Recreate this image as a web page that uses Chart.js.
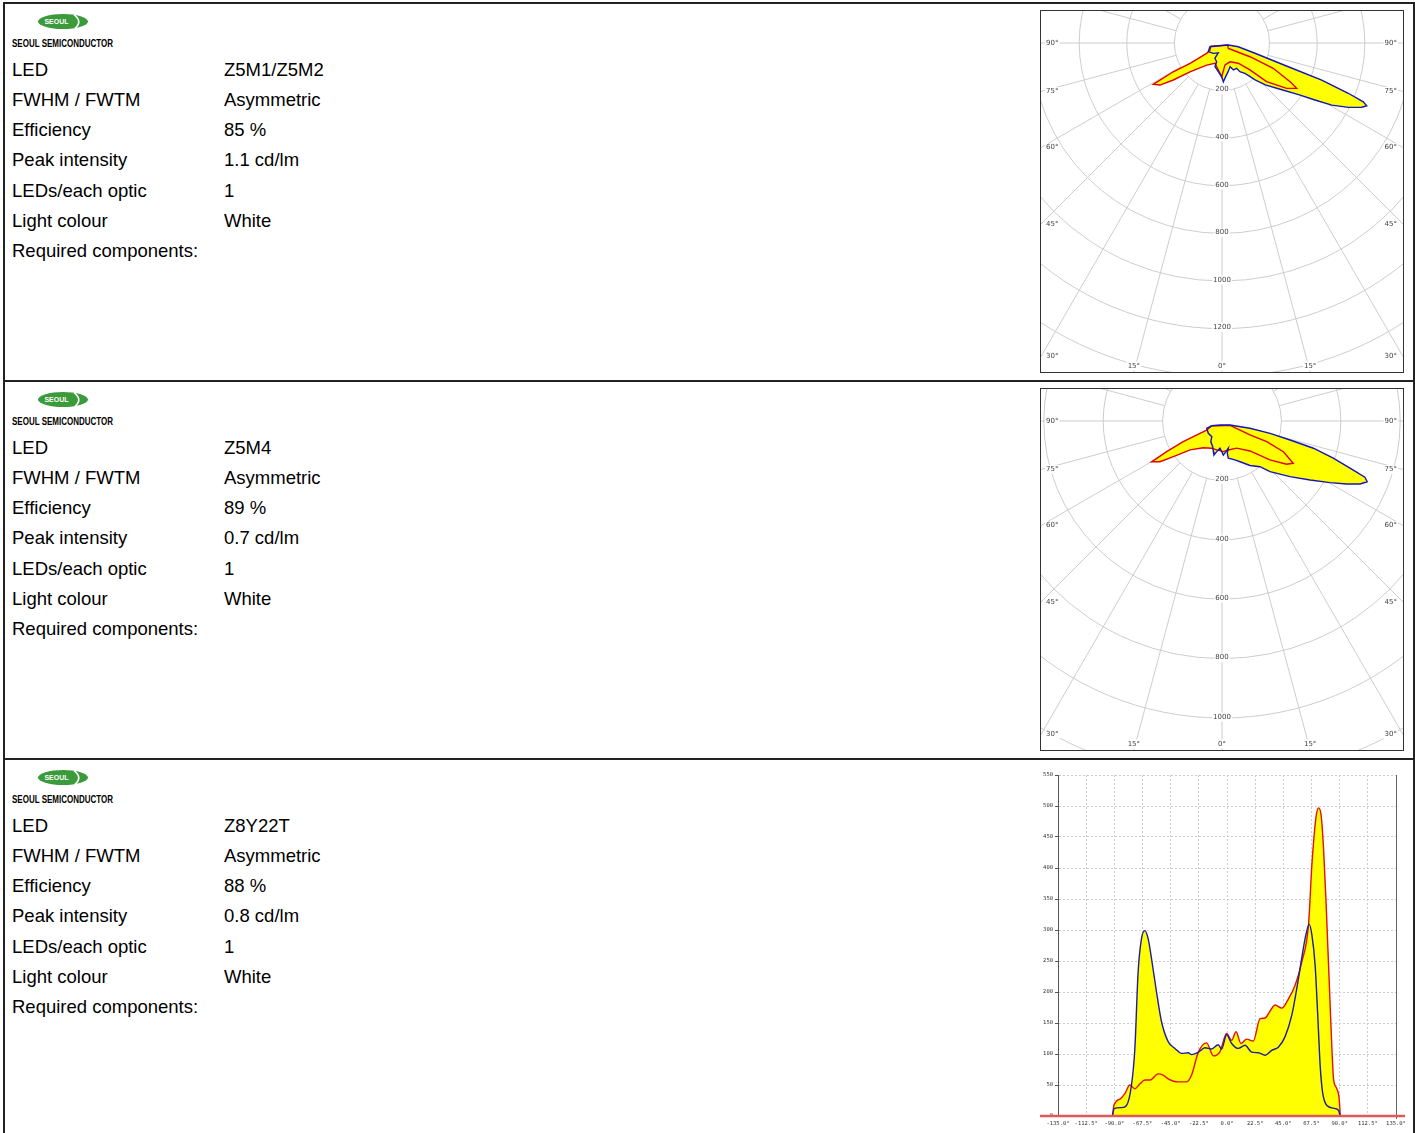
<!DOCTYPE html>
<html>
<head>
<meta charset="utf-8">
<script src="https://cdn.jsdelivr.net/npm/chart.js@4.4.0/dist/chart.umd.min.js"></script>
<style>
	html, body { margin: 0; padding: 0; background: #fff; }
	body { position: relative; width: 1415px; height: 1133px; overflow: hidden; font-family: "Liberation Sans", Arial, sans-serif; color: #000; }
	.frame { position: absolute; left: 3px; top: 2px; width: 1408px; height: 1140px; border: 2px solid #222; }
	.sep { position: absolute; left: 3px; width: 1412px; height: 2px; background: #222; }
	.logo { position: absolute; left: 37px; }
	.brand { position: absolute; left: 12px; font-weight: bold; font-size: 10px; line-height: 12px; transform: scaleX(0.8); transform-origin: left center; white-space: nowrap; }
	.info { position: absolute; left: 12px; width: 600px; font-size: 18.5px; }
	.ln { position: relative; height: 30.17px; line-height: 30.17px; white-space: nowrap; }
	.ln .v { position: absolute; left: 212px; top: 0; }
	.box { position: absolute; left: 1040px; width: 362px; height: 361px; border: 1px solid #333; background: #fff; }
	.box canvas, #lineWrap canvas { display: block; }
	#lineWrap { position: absolute; left: 1035px; top: 765px; width: 375px; height: 368px; }
</style>
</head>
<body>
<div class="frame"></div>
<div class="sep" style="top:380px"></div>
<div class="sep" style="top:758px"></div>
<div id="rows"></div>

<div class="box" style="top:10px"><canvas id="polar1" width="362" height="361"></canvas></div>
<div class="box" style="top:388px"><canvas id="polar2" width="362" height="361"></canvas></div>
<div id="lineWrap"><canvas id="lineChart" width="375" height="368"></canvas></div>

<script>
// ---- text data for the three rows ----
const ledNames = ['Z5M1/Z5M2', 'Z5M4', 'Z8Y22T'];
const efficiencies = ['85 %', '89 %', '88 %'];
const peakIntensities = ['1.1 cd/lm', '0.7 cd/lm', '0.8 cd/lm'];
const rowOffsets = [0, 378, 756];

// ---- polar plot 1 (Z5M1/Z5M2), gamma angle in degrees, intensity in cd/klm ----
const p1BlueAngles = [-73, -58, -40, -21, -25, -16, -16.5, -7, -0.5, 2, 6, 12, 19, 23, 30, 32, 37, 40, 42, 46, 52, 56, 58.5, 60.5, 63, 65.3, 66.5, 67.4, 68.3, 69.6, 70.3, 72.7, 77, 72];
const p1BlueValues = [53, 68, 57, 44, 71, 82, 104, 122, 142, 163, 143, 123, 105, 123, 123, 142, 160, 184, 208, 253, 319, 388, 458, 530, 596, 646, 663, 643, 571, 447, 296, 145, 70, 28];
const p1RedAngles = [-75, -59.7, -56, -57.6, -59.5, -59, -55.9, -52.8, -48.1, -34.8, -19, -12.6, -0.5, 7.8, 23.2, 38.8, 46, 49.1, 55, 58.8, 60.4, 63.7, 63.9, 50, 70];
const p1RedValues = [50, 58, 78, 159, 238, 337, 315, 257, 181, 113, 90, 102, 142, 93, 86, 109, 163, 248, 332, 367, 329, 240, 131, 35, 25];

// ---- polar plot 2 (Z5M4) ----
const p2BlueAngles = [-65.5, -64.5, -48, -33, -28.6, -19.9, -15.8, -13.2, -8.9, -4.2, -0.6, 2.2, 7.4, 13, 9.3, 9.6, 18.4, 23.9, 32.2, 39.7, 43.4, 50.7, 56.2, 60.3, 63.2, 65.5, 67.3, 68.5, 69.5, 71.5, 73.4, 74.4, 75.6, 75.4, 63.4, -26.6];
const p2BlueValues = [38, 57, 62, 63, 79, 92, 107, 118, 102, 92, 103, 115, 104, 94, 110, 127, 138, 150, 177, 200, 235, 296, 357, 419, 470, 511, 530, 517, 472, 395, 321, 238, 167, 97, 30, 15];
const p2RedAngles = [-64, -59.5, -60.8, -61.9, -61, -59.9, -56.7, -53.8, -47.8, -35, -20.7, -10.4, 2.4, 12.3, 28.3, 43, 50.9, 56.2, 59.3, 63.4, 65.2, 63.4, 63.4, 61.7];
const p2RedValues = [39, 60, 85, 148, 213, 274, 250, 203, 145, 110, 98, 99, 103, 100, 104, 138, 208, 262, 279, 231, 166, 105, 68, 31];

// ---- linear plot (Z8Y22T) ----
const l3BlueAngles = [-91.5, -90.2, -84.3, -80.3, -76.3, -73.6, -71, -68.3, -65.6, -63, -60.3, -56.3, -52.3, -47, -41.6, -36.3, -31, -28.3, -22.9, -17.6, -12.3, -7, -4.3, -0.3, 3.7, 9, 14.4, 19.7, 25, 30.4, 35.8, 41, 46.4, 51.8, 57.1, 62.4, 65.6, 67.8, 70.4, 73.1, 74.4, 76.3, 79.8, 86.5, 89.1, 90.5];
const l3BlueValues = [0, 12, 13.5, 17, 50, 109, 232, 286, 299, 286, 254, 200, 152, 120, 109, 101, 102, 99, 103, 110, 108, 115, 108, 131, 117, 109, 114, 103, 102, 98, 106, 111, 128, 163, 222, 286, 309, 292, 243, 136, 82, 39, 17, 12, 9, 0];
const l3RedAngles = [-91.5, -90.2, -85, -81.6, -77.6, -73.6, -69.5, -65.6, -61.6, -55, -51, -47, -39, -32.3, -28.3, -22.9, -16.3, -10.9, -5.6, -0.3, 3.7, 7.2, 11.2, 15.7, 21, 26.4, 30.4, 34, 38.4, 43.8, 49.1, 54.4, 59.8, 65.1, 67.8, 69.4, 71.3, 73.1, 75.2, 77.1, 79, 80.6, 82.2, 83.8, 85.1, 87.5, 89.6, 90.5];
const l3RedValues = [0, 18, 28, 36, 50, 44, 52, 58, 58, 68, 66, 60, 55, 55, 66, 103, 118, 97, 104, 133, 122, 136, 117, 124, 121, 157, 158, 168, 179, 174, 189, 211, 249, 308, 405, 448, 485, 497, 485, 432, 351, 270, 189, 109, 60, 45, 28, 0];

// axis limits / labels
const p1Range = [-760.5, 760.5, -1382.4, 134.5]; // xmin, xmax, ymin, ymax
const p2Range = [-609.4, 609.4, -1107.7, 107.7];
const p1RingLabels = [200, 400, 600, 800, 1000, 1200];
const p2RingLabels = [200, 400, 600, 800, 1000];
const sideAngles = [90, 75, 60, 45, 30];
const bottomAngles = [15, 0];

// build the text blocks
let html = '';
rowOffsets.forEach(function (off, i) {
	html += '<svg class="logo" style="top:' + (13 + off) + 'px" width="56" height="17" viewBox="0 0 56 17">' +
		'<ellipse cx="26" cy="8.5" rx="25" ry="7.5" fill="#3b9a3a"/>' +
		'<path d="M37 1.6 Q46 8.5 38 15.4" stroke="#fff" stroke-width="1.6" fill="none"/>' +
		'<text x="19.5" y="11" font-size="7" font-weight="bold" fill="#fff" text-anchor="middle" font-family="Liberation Sans, Arial">SEOUL</text></svg>';
	html += '<div class="brand" style="top:' + (38 + off) + 'px">SEOUL SEMICONDUCTOR</div>';
	const lines = [
		['LED', ledNames[i]],
		['FWHM / FWTM', 'Asymmetric'],
		['Efficiency', efficiencies[i]],
		['Peak intensity', peakIntensities[i]],
		['LEDs/each optic', '1'],
		['Light colour', 'White'],
		['Required components:', '']
	];
	html += '<div class="info" style="top:' + (55 + off) + 'px">';
	lines.forEach(function (l) {
		html += '<div class="ln"><span class="k">' + l[0] + '</span><span class="v">' + l[1] + '</span></div>';
	});
	html += '</div>';
});
document.getElementById('rows').innerHTML = html;

// polar (angle, intensity) -> x/y with nadir pointing down
function polarPoints(angles, values) {
	const pts = angles.map(function (a, i) {
		const t = a * Math.PI / 180;
		return { x: values[i] * Math.sin(t), y: -values[i] * Math.cos(t) };
	});
	pts.push(pts[0]); // close the loop
	return pts;
}

function linePoints(angles, values) {
	return angles.map(function (a, i) { return { x: a, y: values[i] }; });
}

// grid of the polar diagram, drawn from the chart scales
const polarGrid = {
	id: 'polarGrid',
	beforeDraw(chart, args, o) {
		const ctx = chart.ctx;
		const a = chart.chartArea;
		const sx = chart.scales.x, sy = chart.scales.y;
		const cx = sx.getPixelForValue(0), cy = sy.getPixelForValue(0);
		const rad = function (v) { return sx.getPixelForValue(v) - cx; };
		ctx.save();
		ctx.beginPath();
		ctx.rect(a.left, a.top, a.right - a.left, a.bottom - a.top);
		ctx.clip();
		ctx.strokeStyle = '#cdcdcd';
		ctx.lineWidth = 1;
		for (let v = o.step; v <= o.ringMax; v += o.step) {
			ctx.beginPath();
			ctx.arc(cx, cy, rad(v), 0, Math.PI * 2);
			ctx.stroke();
		}
		const r0 = rad(o.step), r1 = rad(o.ringMax * 2);
		for (let g = 0; g < 360; g += 15) {
			const t = g * Math.PI / 180;
			ctx.beginPath();
			ctx.moveTo(cx + r0 * Math.sin(t), cy + r0 * Math.cos(t));
			ctx.lineTo(cx + r1 * Math.sin(t), cy + r1 * Math.cos(t));
			ctx.stroke();
		}
		ctx.font = '7px "DejaVu Sans"';
		ctx.textBaseline = 'middle';
		function label(txt, x, y, align) {
			ctx.textAlign = align;
			const w = ctx.measureText(txt).width;
			const x0 = align === 'left' ? x : (align === 'right' ? x - w : x - w / 2);
			ctx.fillStyle = '#fff';
			ctx.fillRect(x0 - 1, y - 4.5, w + 2, 9);
			ctx.fillStyle = '#444';
			ctx.fillText(txt, x, y);
		}
		o.ringLabels.forEach(function (v) { label(String(v), cx, sy.getPixelForValue(-v) - 1, 'center'); });
		o.sideAngles.forEach(function (g) {
			const py = cy + (cx - a.left) / Math.tan(g * Math.PI / 180);
			label(g + '°', a.left + 5, py, 'left');
			label(g + '°', a.right - 6, py, 'right');
		});
		o.bottomAngles.forEach(function (g) {
			const dx = (a.bottom - cy) * Math.tan(g * Math.PI / 180);
			label(g + '°', cx - dx, a.bottom - 6, 'center');
			if (g) label(g + '°', cx + dx, a.bottom - 6, 'center');
		});
		ctx.restore();
	}
};

function makePolar(id, blueA, blueV, redA, redV, range, ringLabels) {
	return new Chart(document.getElementById(id), {
		type: 'scatter',
		data: {
			datasets: [
				{ label: 'C90-C270', data: polarPoints(blueA, blueV), showLine: true, fill: 'shape', backgroundColor: '#ffff00', borderColor: '#1414c0', borderWidth: 1.4, pointRadius: 0, tension: 0 },
				{ label: 'C0-C180', data: polarPoints(redA, redV), showLine: true, fill: 'shape', backgroundColor: '#ffff00', borderColor: '#e00000', borderWidth: 1.4, pointRadius: 0, tension: 0 }
			]
		},
		options: {
			responsive: false,
			animation: false,
			layout: { padding: 0 },
			scales: {
				x: { type: 'linear', display: false, min: range[0], max: range[1] },
				y: { type: 'linear', display: false, min: range[2], max: range[3] }
			},
			plugins: {
				legend: { display: false },
				tooltip: { enabled: false },
				filler: { drawTime: 'beforeDatasetsDraw' },
				polarGrid: { step: 200, ringMax: 1800, ringLabels: ringLabels, sideAngles: sideAngles, bottomAngles: bottomAngles }
			}
		},
		plugins: [polarGrid]
	});
}

makePolar('polar1', p1BlueAngles, p1BlueValues, p1RedAngles, p1RedValues, p1Range, p1RingLabels);
makePolar('polar2', p2BlueAngles, p2BlueValues, p2RedAngles, p2RedValues, p2Range, p2RingLabels);

// right frame line and the red zero line of the cartesian plot
const axisExtras = {
	id: 'axisExtras',
	afterDatasetsDraw(chart) {
		const ctx = chart.ctx;
		const a = chart.chartArea;
		const xr = Math.round(chart.scales.x.getPixelForValue(135)) + 0.5;
		const y0 = chart.scales.y.getPixelForValue(0);
		ctx.save();
		ctx.strokeStyle = '#666';
		ctx.lineWidth = 1;
		ctx.beginPath();
		ctx.moveTo(xr, a.top);
		ctx.lineTo(xr, y0 + 3);
		ctx.stroke();
		ctx.strokeStyle = '#e25858';
		ctx.lineWidth = 2.5;
		ctx.beginPath();
		ctx.moveTo(a.left - 18, y0);
		ctx.lineTo(a.right + 9, y0);
		ctx.stroke();
		ctx.restore();
	}
};

Chart.defaults.font.family = '"DejaVu Sans Mono", monospace';

new Chart(document.getElementById('lineChart'), {
	type: 'scatter',
	data: {
		datasets: [
			{ label: 'C90-C270', data: linePoints(l3BlueAngles, l3BlueValues), showLine: true, fill: 'origin', backgroundColor: '#ffff00', borderColor: '#1c1ca0', borderWidth: 1.4, pointRadius: 0, cubicInterpolationMode: 'monotone' },
			{ label: 'C0-C180', data: linePoints(l3RedAngles, l3RedValues), showLine: true, fill: 'origin', backgroundColor: '#ffff00', borderColor: '#e41010', borderWidth: 1.4, pointRadius: 0, cubicInterpolationMode: 'monotone' }
		]
	},
	options: {
		responsive: false,
		animation: false,
		layout: { padding: { top: 10, right: 14, left: 0, bottom: 0 } },
		scales: {
			x: {
				type: 'linear', min: -135, max: 135,
				ticks: { stepSize: 22.5, autoSkip: false, maxRotation: 0, padding: 4, color: '#333', font: { size: 5.5 }, callback: function (v) { return v.toFixed(1) + '°'; } },
				grid: { color: '#cccccc', drawTicks: false },
				border: { display: false, dash: [2, 2] },
				afterFit: function (s) { s.height = 17; }
			},
			y: {
				type: 'linear', min: 0, max: 550,
				ticks: { stepSize: 50, padding: 2, color: '#333', font: { size: 5.5 } },
				grid: { color: '#cccccc', tickLength: 3, tickColor: '#555' },
				border: { display: true, color: '#555', width: 1, dash: [2, 2] },
				afterFit: function (s) { s.width = 23; }
			}
		},
		plugins: {
			legend: { display: false },
			tooltip: { enabled: false },
			filler: { drawTime: 'beforeDatasetsDraw' }
		}
	},
	plugins: [axisExtras]
});
</script>
</body>
</html>
